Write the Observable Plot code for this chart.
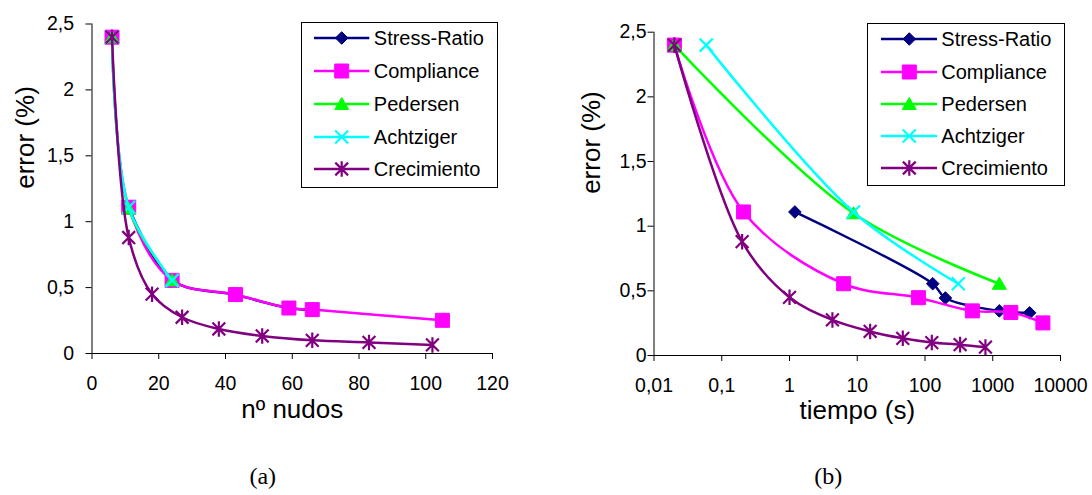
<!DOCTYPE html>
<html>
<head>
<meta charset="utf-8">
<script src="https://cdn.jsdelivr.net/npm/d3@7"></script>
<script src="https://cdn.jsdelivr.net/npm/@observablehq/plot@0.6"></script>
<style>
  body { margin: 0; background: #fff; }
  #wrap { position: relative; width: 1092px; height: 495px; overflow: hidden; background: #fff;
          font-family: "Liberation Sans", Arial, sans-serif; }
  .panel { position: absolute; top: 0; width: 546px; height: 495px; }
  .legend { position: absolute; border: 1px solid #000; background: #fff; box-sizing: border-box; }
  .legend .sw { position: absolute; overflow: visible; }
  .legend .lab { position: absolute; font-size: 20px; line-height: 20px; color: #000; white-space: nowrap; transform: translateY(-50%); }
</style>
</head>
<body>
<div id="wrap"></div>
<script>
// ---------- data ----------
const seriesNames = ["Stress-Ratio", "Compliance", "Pedersen", "Achtziger", "Crecimiento"];

// (a) number of nodes
const nodesStress      = [11, 24, 43, 59, 66];
const nodesCompliance  = [6, 11, 24, 43, 59, 66, 105];
const nodesPedersen    = [6, 11, 24];
const nodesAchtziger   = [6, 11, 24];
const nodesCrecimiento = [6, 11, 18, 27, 38, 51, 66, 83, 102];

// (b) time (s)
const timeStress      = [1.2, 130, 200, 1250, 3500];
const timeCompliance  = [0.02, 0.21, 6.3, 80, 500, 1850, 5500];
const timePedersen    = [0.02, 8.8, 1250];
const timeAchtziger   = [0.059, 8.8, 310];
const timeCrecimiento = [0.02, 0.2, 1.0, 4.3, 15.5, 47, 126, 330, 780];

// error (%) shared by both panels
const errStress      = [1.11, 0.555, 0.445, 0.345, 0.33];
const errCompliance  = [2.4, 1.11, 0.555, 0.447, 0.345, 0.333, 0.252];
const errPedersen    = [2.4, 1.1, 0.555];
const errAchtziger   = [2.4, 1.11, 0.555];
const errCrecimiento = [2.4, 0.88, 0.45, 0.275, 0.186, 0.133, 0.1, 0.084, 0.065];

const nodeTicks = [0, 20, 40, 60, 80, 100, 120];
const timeTicks = [0.01, 0.1, 1, 10, 100, 1000, 10000];
const errTicks  = [0, 0.5, 1, 1.5, 2, 2.5];

// ---------- styles ----------
const seriesColors = ["#000080", "#ff00ff", "#00ff00", "#00ffff", "#800080"];
const rad = s => Math.sqrt(s / Math.PI);
const symDiamond  = {draw(c, s) { const r = rad(s); c.moveTo(0, -r); c.lineTo(r, 0); c.lineTo(0, r); c.lineTo(-r, 0); c.closePath(); }};
const symSquare   = {draw(c, s) { const r = rad(s); c.moveTo(-r, -r); c.lineTo(r, -r); c.lineTo(r, r); c.lineTo(-r, r); c.closePath(); }};
const symTriangle = {draw(c, s) { const r = rad(s); c.moveTo(0, -0.93 * r); c.lineTo(r, 0.79 * r); c.lineTo(-r, 0.79 * r); c.closePath(); }};
const symTimes    = {draw(c, s) { const r = rad(s); c.moveTo(-r, -r); c.lineTo(r, r); c.moveTo(-r, r); c.lineTo(r, -r); }};
const symAsterisk = {draw(c, s) { const r = rad(s); const d = 0.82 * r;
  c.moveTo(-d, -d); c.lineTo(d, d); c.moveTo(-d, d); c.lineTo(d, -d); c.moveTo(0, -r); c.lineTo(0, r); }};
const markerSymbols = [symDiamond, symSquare, symTriangle, symTimes, symAsterisk];
const markerR       = [6.3, 7, 7, 6.5, 7.8];
const markerFilled  = [true, true, true, false, false];

const fmt = d => String(d).replace(".", ",");
const FONT = "'Liberation Sans', Arial, sans-serif";
const TITLE_SIZE = 26;

function rowsOf(xs, ys) { return xs.map((x, i) => ({x, y: ys[i]})); }

function seriesMarks(xsList) {
  const ysList = [errStress, errCompliance, errPedersen, errAchtziger, errCrecimiento];
  const marks = [];
  xsList.forEach((xs, i) => {
    const rows = rowsOf(xs, ysList[i]);
    marks.push(Plot.line(rows, {x: "x", y: "y", stroke: seriesColors[i], strokeWidth: 2.5, curve: "catmull-rom"}));
    marks.push(Plot.dot(rows, {
      x: "x", y: "y", symbol: markerSymbols[i], r: markerR[i],
      fill: markerFilled[i] ? seriesColors[i] : "none",
      stroke: seriesColors[i], strokeWidth: markerFilled[i] ? 1 : 2.2
    }));
  });
  return marks;
}

const wrap = document.getElementById("wrap");

// ---------- panel (a) ----------
const plotA = Plot.plot({
  width: 546, height: 495,
  marginLeft: 91.5, marginRight: 54, marginTop: 23.5, marginBottom: 142,
  style: {fontFamily: FONT, fontSize: "19.5px", color: "#000", background: "transparent", overflow: "visible"},
  x: {domain: [0, 120]},
  y: {domain: [0, 2.5]},
  marks: [
    Plot.axisX({ticks: nodeTicks, tickFormat: fmt, tickSize: 6, tickPadding: 17, label: null, fontSize: 19.5}),
    Plot.axisY({ticks: errTicks, tickFormat: fmt, tickSize: 6, tickPadding: 12, label: null, fontSize: 19.5}),
    Plot.ruleX([0], {stroke: "#000"}),
    Plot.ruleY([0], {stroke: "#000"}),
    ...seriesMarks([nodesStress, nodesCompliance, nodesPedersen, nodesAchtziger, nodesCrecimiento]),
    Plot.text(["error (%)"], {text: d => d, frameAnchor: "left", rotate: -90, dx: -66.5, fontSize: TITLE_SIZE, fill: "#000"}),
    Plot.text(["nº nudos"], {text: d => d, frameAnchor: "bottom", dy: 64, fontSize: TITLE_SIZE, fill: "#000"}),
    Plot.text(["(a)"], {text: d => d, frameAnchor: "bottom", dx: -29.5, dy: 130, fontSize: 24, fill: "#000",
                        fontFamily: "'Liberation Serif', 'Times New Roman', serif"})
  ]
});
const divA = document.createElement("div");
divA.className = "panel"; divA.style.left = "0px";
divA.appendChild(plotA);
wrap.appendChild(divA);

// ---------- panel (b) ----------
const plotB = Plot.plot({
  width: 546, height: 495,
  marginLeft: 107.5, marginRight: 32, marginTop: 31.7, marginBottom: 140,
  style: {fontFamily: FONT, fontSize: "19.5px", color: "#000", background: "transparent", overflow: "visible"},
  x: {type: "log", domain: [0.01, 10000]},
  y: {domain: [0, 2.5]},
  marks: [
    Plot.axisX({ticks: timeTicks, tickFormat: fmt, tickSize: 6, tickPadding: 17, label: null, fontSize: 19.5}),
    Plot.axisY({ticks: errTicks, tickFormat: fmt, tickSize: 6, tickPadding: 1.5, label: null, fontSize: 19.5}),
    Plot.ruleX([0.01], {stroke: "#000"}),
    Plot.ruleY([0], {stroke: "#000"}),
    ...seriesMarks([timeStress, timeCompliance, timePedersen, timeAchtziger, timeCrecimiento]),
    Plot.text(["error (%)"], {text: d => d, frameAnchor: "left", rotate: -90, dx: -62.5, fontSize: TITLE_SIZE, fill: "#000"}),
    Plot.text(["tiempo (s)"], {text: d => d, frameAnchor: "bottom", dy: 63, fontSize: TITLE_SIZE, fill: "#000"}),
    Plot.text(["(b)"], {text: d => d, frameAnchor: "bottom", dx: -29, dy: 128, fontSize: 24, fill: "#000",
                        fontFamily: "'Liberation Serif', 'Times New Roman', serif"})
  ]
});
const divB = document.createElement("div");
divB.className = "panel"; divB.style.left = "546px";
divB.appendChild(plotB);
wrap.appendChild(divB);

// ---------- legends ----------
function legend(box) {
  const lg = d3.select(wrap).append("div").attr("class", "legend")
    .style("left", box.left + "px").style("top", box.top + "px")
    .style("width", box.width + "px").style("height", box.height + "px");
  seriesNames.forEach((name, i) => {
    const cy = box.row0 + box.step * i - 1;
    const sw = lg.append("svg").attr("class", "sw")
      .attr("width", box.x1 - box.x0 + 20).attr("height", 24)
      .style("left", (box.x0 - 1 - 10) + "px").style("top", (cy - 12) + "px");
    const mx = box.mx - box.x0 + 10;
    sw.append("line").attr("x1", 10).attr("x2", box.x1 - box.x0 + 10).attr("y1", 12).attr("y2", 12)
      .attr("stroke", seriesColors[i]).attr("stroke-width", 2.5);
    const p = d3.path();
    const r = markerR[i];
    markerSymbols[i].draw(p, Math.PI * r * r);
    sw.append("path").attr("d", p.toString()).attr("transform", `translate(${mx},12)`)
      .attr("fill", markerFilled[i] ? seriesColors[i] : "none")
      .attr("stroke", seriesColors[i]).attr("stroke-width", markerFilled[i] ? 1 : 2.2);
    lg.append("div").attr("class", "lab").style("left", (box.tx - 1) + "px").style("top", cy + "px").text(name);
  });
}
legend({left: 300.5, top: 21.5, width: 197, height: 166, row0: 16.8, step: 32.75, x0: 13.3, x1: 68.6, mx: 41, tx: 73.3});
legend({left: 867.3, top: 22.7, width: 197.4, height: 163, row0: 16.6, step: 32.3, x0: 13.4, x1: 69.4, mx: 41.7, tx: 74});
</script>
</body>
</html>
